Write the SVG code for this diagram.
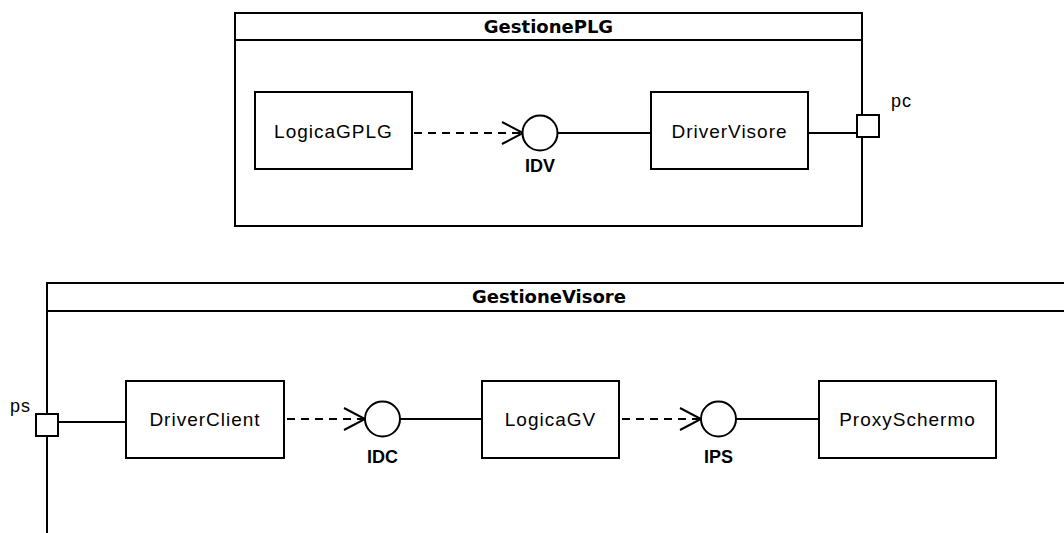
<svg xmlns="http://www.w3.org/2000/svg" width="1064" height="533" viewBox="0 0 1064 533">
<style>
  .frame{fill:#fff;stroke:#000;stroke-width:2}
  .box{fill:#fff;stroke:#000;stroke-width:2}
  .port{fill:#fff;stroke:#000;stroke-width:2}
  .ball{fill:#fff;stroke:#000;stroke-width:2}
  .line{fill:none;stroke:#000;stroke-width:2}
  .dash{fill:none;stroke:#000;stroke-width:2;stroke-dasharray:8 6}
  .title{font-family:"DejaVu Sans","Liberation Sans",sans-serif;font-weight:bold;font-size:18px;text-anchor:middle;fill:#000}
  .lbl{font-family:"Liberation Sans",Arial,sans-serif;font-size:19px;letter-spacing:1px;text-anchor:middle;fill:#000}
  .ifc{font-family:"Liberation Sans",Arial,sans-serif;font-weight:bold;font-size:18px;text-anchor:middle;fill:#000}
  .port-lbl{font-family:"Liberation Sans",Arial,sans-serif;font-size:18px;letter-spacing:1px;fill:#000}
</style>
<rect width="1064" height="533" fill="#fff"/>

<g id="GestionePLG">
  <rect class="frame" x="235" y="13" width="627" height="213"/>
  <line class="line" x1="235" y1="40" x2="862" y2="40"/>
  <text class="title" x="548.5" y="33">GestionePLG</text>
</g>

<g id="GestioneVisore">
  <rect class="frame" x="47" y="283" width="1100" height="400"/>
  <line class="line" x1="47" y1="311" x2="1147" y2="311"/>
  <text class="title" x="549" y="303">GestioneVisore</text>
</g>

<g id="connectors">
  <line class="dash" x1="414" y1="133" x2="522" y2="133"/>
  <polyline class="line" points="502,122 523,133 502,144"/>
  <line class="line" x1="557.5" y1="133" x2="651" y2="133"/>
  <line class="line" x1="808" y1="133" x2="857" y2="133"/>

  <line class="line" x1="58" y1="422" x2="126" y2="422"/>
  <line class="dash" x1="287" y1="419" x2="364" y2="419"/>
  <polyline class="line" points="344,408 365,419 344,430"/>
  <line class="line" x1="400" y1="419" x2="482" y2="419"/>
  <line class="dash" x1="622" y1="419" x2="700" y2="419"/>
  <polyline class="line" points="680,408 701,419 680,430"/>
  <line class="line" x1="736" y1="419" x2="819" y2="419"/>
</g>

<g id="LogicaGPLG">
  <rect class="box" x="255" y="92" width="157" height="77"/>
  <text class="lbl" x="333.5" y="138">LogicaGPLG</text>
</g>

<g id="IDV">
  <circle class="ball" cx="540" cy="133" r="17.5"/>
  <text class="ifc" x="540" y="172">IDV</text>
</g>

<g id="DriverVisore">
  <rect class="box" x="651" y="92" width="157" height="77"/>
  <text class="lbl" x="729.5" y="138">DriverVisore</text>
</g>

<g id="pc">
  <rect class="port" x="857" y="115" width="22" height="22"/>
  <text class="port-lbl" x="891" y="107">pc</text>
</g>

<g id="ps">
  <rect class="port" x="36" y="414" width="22" height="22"/>
  <text class="port-lbl" x="10" y="412">ps</text>
</g>

<g id="DriverClient">
  <rect class="box" x="126" y="381" width="158" height="77"/>
  <text class="lbl" x="205" y="426">DriverClient</text>
</g>

<g id="IDC">
  <circle class="ball" cx="382.5" cy="419" r="17.5"/>
  <text class="ifc" x="382.5" y="463">IDC</text>
</g>

<g id="LogicaGV">
  <rect class="box" x="482" y="381" width="137" height="77"/>
  <text class="lbl" x="550.5" y="426">LogicaGV</text>
</g>

<g id="IPS">
  <circle class="ball" cx="718.5" cy="419" r="17.5"/>
  <text class="ifc" x="718.5" y="463">IPS</text>
</g>

<g id="ProxySchermo">
  <rect class="box" x="819" y="381" width="177" height="77"/>
  <text class="lbl" x="907.5" y="426">ProxySchermo</text>
</g>
</svg>
